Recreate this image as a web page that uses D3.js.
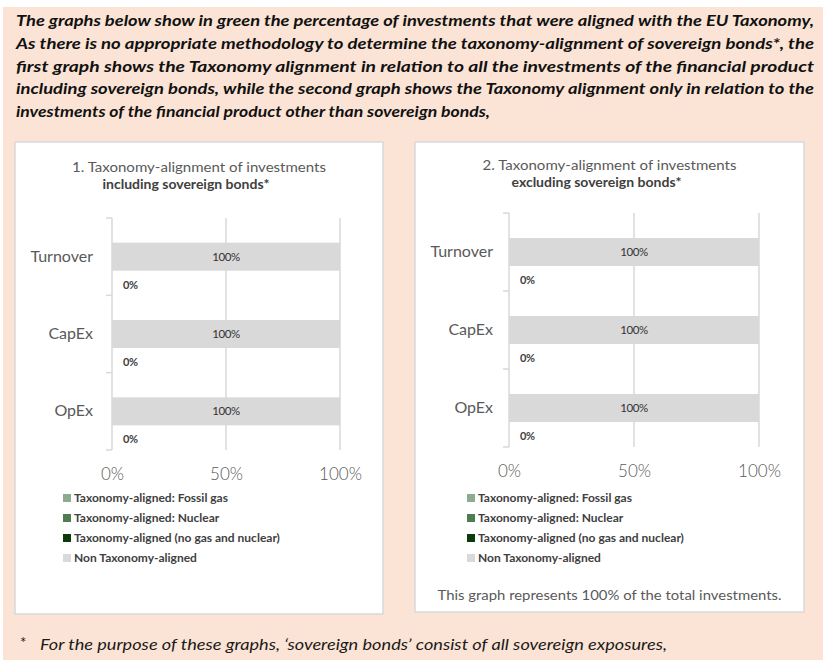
<!DOCTYPE html>
<html>
<head>
<meta charset="utf-8">
<script src="https://cdn.jsdelivr.net/npm/d3@7"></script>
<style>
  body { margin: 0; background: #fff; }
  svg { display: block; font-family: Lato, 'Open Sans', sans-serif; }
</style>
</head>
<body>
<svg id="chart" width="823" height="660"></svg>
<script>
// Data
const categories = ['Turnover', 'CapEx', 'OpEx'];
const seriesNames = [
  'Taxonomy-aligned: Fossil gas',
  'Taxonomy-aligned: Nuclear',
  'Taxonomy-aligned (no gas and nuclear)',
  'Non Taxonomy-aligned'
];
const seriesColors = ['#8eab8f', '#4e7d51', '#0b3b0b', '#d9d9d9'];
// graph 1: including sovereign bonds
const incAligned = [0, 0, 0];
const incNonAligned = [100, 100, 100];
// graph 2: excluding sovereign bonds
const excAligned = [0, 0, 0];
const excNonAligned = [100, 100, 100];
const xTicks = [0, 50, 100];

const introLines = [
  'The graphs below show in green the percentage of investments that were aligned with the EU Taxonomy,',
  'As there is no appropriate methodology to determine the taxonomy-alignment of sovereign bonds*, the',
  'first graph shows the Taxonomy alignment in relation to all the investments of the financial product',
  'including sovereign bonds, while the second graph shows the Taxonomy alignment only in relation to the',
  'investments of the financial product other than sovereign bonds,'
];
const footnote = 'For the purpose of these graphs, \u2018sovereign bonds\u2019 consist of all sovereign exposures,';

const svg = d3.select('#chart');

// Background
svg.append('rect').attr('x', 3).attr('y', 7).attr('width', 820).attr('height', 653).attr('fill', '#fbe4d5');

// Intro paragraph (justified lines)
introLines.forEach((line, i) => {
  const t = svg.append('text')
    .attr('x', 16)
    .attr('y', 26 + i * 22.8)
    .attr('font-size', 16)
    .attr('font-weight', 'bold')
    .attr('font-style', 'italic')
    .attr('fill', '#111')
    .text(line);
  if (i < introLines.length - 1) {
    t.attr('textLength', 798).attr('lengthAdjust', 'spacingAndGlyphs');
  } else {
    t.attr('textLength', 474).attr('lengthAdjust', 'spacingAndGlyphs');
  }
});

// Footnote
svg.append('text').attr('x', 20).attr('y', 648).attr('font-size', 15).attr('fill', '#1a1a1a').text('*');
svg.append('text')
  .attr('x', 40).attr('y', 650)
  .attr('font-size', 15)
  .attr('font-style', 'italic')
  .attr('fill', '#1a1a1a')
  .attr('textLength', 627).attr('lengthAdjust', 'spacingAndGlyphs')
  .text(footnote);

function drawPanel(cfg) {
  const g = svg.append('g');

  g.append('rect')
    .attr('x', cfg.box[0]).attr('y', cfg.box[1])
    .attr('width', cfg.box[2] - cfg.box[0]).attr('height', cfg.box[3] - cfg.box[1])
    .attr('fill', '#fff').attr('stroke', '#d9d9d9').attr('stroke-width', 1.5);

  const cx = (cfg.box[0] + cfg.box[2]) / 2;
  g.append('text').attr('x', cx).attr('y', cfg.titleY)
    .attr('text-anchor', 'middle').attr('font-size', 14).attr('fill', '#595959')
    .attr('textLength', 254).attr('lengthAdjust', 'spacingAndGlyphs')
    .text(cfg.title1);
  g.append('text').attr('x', cx - 13).attr('y', cfg.titleY + 17)
    .attr('text-anchor', 'middle').attr('font-size', 14).attr('font-weight', 'bold').attr('fill', '#404040')
    .text(cfg.title2);

  const x = d3.scaleLinear().domain([0, 100]).range(cfg.xRange);
  const y = d3.scaleBand().domain(categories).range(cfg.yRange);
  const sub = d3.scaleBand().domain(['non', 'aligned'])
    .range([y.bandwidth() / 2 - 14, y.bandwidth() / 2 + 42]);

  // gridlines
  g.append('g').selectAll('line')
    .data(xTicks.filter(d => d > 0))
    .join('line')
    .attr('x1', d => x(d)).attr('x2', d => x(d))
    .attr('y1', cfg.yRange[0]).attr('y2', cfg.yRange[1])
    .attr('stroke', '#d9d9d9').attr('stroke-width', 1.5);

  // category axis line with boundary ticks
  const bounds = categories.map(c => y(c)).concat([cfg.yRange[1]]);
  g.append('line')
    .attr('x1', x(0)).attr('x2', x(0))
    .attr('y1', cfg.yRange[0]).attr('y2', cfg.yRange[1])
    .attr('stroke', '#d9d9d9').attr('stroke-width', 1.5);
  g.append('g').selectAll('line')
    .data(bounds)
    .join('line')
    .attr('x1', x(0) - 6).attr('x2', x(0))
    .attr('y1', d => d).attr('y2', d => d)
    .attr('stroke', '#d9d9d9').attr('stroke-width', 1.5);

  // category labels
  const yAxis = g.append('g')
    .attr('transform', `translate(${x(0)},0)`)
    .call(d3.axisLeft(y).tickSize(0).tickPadding(cfg.catPad));
  yAxis.select('.domain').remove();
  yAxis.selectAll('text')
    .attr('font-family', 'Lato, sans-serif').attr('font-size', 16).attr('fill', '#595959')
    .attr('dy', '0.32em');

  // x tick labels
  const xAxis = g.append('g')
    .attr('transform', `translate(0,${cfg.xLabelY})`)
    .call(d3.axisBottom(x).tickValues(xTicks).tickFormat(d => d + '%').tickSize(0).tickPadding(0));
  xAxis.select('.domain').remove();
  xAxis.selectAll('text')
    .attr('font-family', 'Lato, sans-serif').attr('font-size', 17).attr('fill', '#595959')
    .attr('font-weight', 300).attr('dy', '0.35em');

  // bars
  const rows = categories.map((c, i) => ({ cat: c, aligned: cfg.aligned[i], non: cfg.non[i] }));
  g.append('g').selectAll('rect')
    .data(rows)
    .join('rect')
    .attr('x', x(0))
    .attr('y', d => y(d.cat) + sub('non'))
    .attr('width', d => x(d.non) - x(0))
    .attr('height', sub.bandwidth())
    .attr('fill', seriesColors[3]);
  g.append('g').selectAll('rect')
    .data(rows)
    .join('rect')
    .attr('x', x(0))
    .attr('y', d => y(d.cat) + sub('aligned'))
    .attr('width', d => x(d.aligned) - x(0))
    .attr('height', sub.bandwidth())
    .attr('fill', seriesColors[2]);

  // data labels
  g.append('g').selectAll('text')
    .data(rows)
    .join('text')
    .attr('x', d => x(d.non / 2))
    .attr('y', d => y(d.cat) + sub('non') + sub.bandwidth() / 2)
    .attr('dy', '0.35em')
    .attr('text-anchor', 'middle')
    .attr('font-size', 11.5).attr('fill', '#333').attr('letter-spacing', -0.4)
    .text(d => d.non + '%');
  g.append('g').selectAll('text')
    .data(rows)
    .join('text')
    .attr('x', d => x(d.aligned) + 11)
    .attr('y', d => y(d.cat) + sub('aligned') + sub.bandwidth() / 2)
    .attr('dy', '0.35em')
    .attr('font-size', 11).attr('font-weight', 'bold').attr('fill', '#404040').attr('letter-spacing', -0.4)
    .text(d => d.aligned + '%');

  // legend
  const leg = g.append('g').selectAll('g')
    .data(seriesNames)
    .join('g')
    .attr('transform', (d, i) => `translate(${cfg.legendX},${498 + i * 20})`);
  leg.append('rect')
    .attr('x', 0).attr('y', -4).attr('width', 8).attr('height', 8)
    .attr('fill', (d, i) => seriesColors[i]);
  leg.append('text')
    .attr('x', 11).attr('dy', '0.35em')
    .attr('font-size', 12).attr('font-weight', 'bold').attr('fill', '#404040')
    .text(d => d);

  if (cfg.note) {
    g.append('text').attr('x', cx).attr('y', 600)
      .attr('text-anchor', 'middle').attr('font-size', 14).attr('fill', '#595959')
      .attr('textLength', 344).attr('lengthAdjust', 'spacingAndGlyphs')
      .text(cfg.note);
  }
}

drawPanel({
  box: [15, 142, 383, 614],
  title1: '1. Taxonomy-alignment of investments',
  title2: 'including sovereign bonds*',
  titleY: 172,
  xRange: [112, 340],
  yRange: [218, 450],
  catPad: 19,
  xLabelY: 474,
  legendX: 63,
  aligned: incAligned,
  non: incNonAligned
});

drawPanel({
  box: [415, 142, 804, 612],
  title1: '2. Taxonomy-alignment of investments',
  title2: 'excluding sovereign bonds*',
  titleY: 170,
  xRange: [509, 759],
  yRange: [213, 447],
  catPad: 16,
  xLabelY: 471,
  legendX: 467,
  aligned: excAligned,
  non: excNonAligned,
  note: 'This graph represents 100% of the total investments.'
});
</script>
</body>
</html>
